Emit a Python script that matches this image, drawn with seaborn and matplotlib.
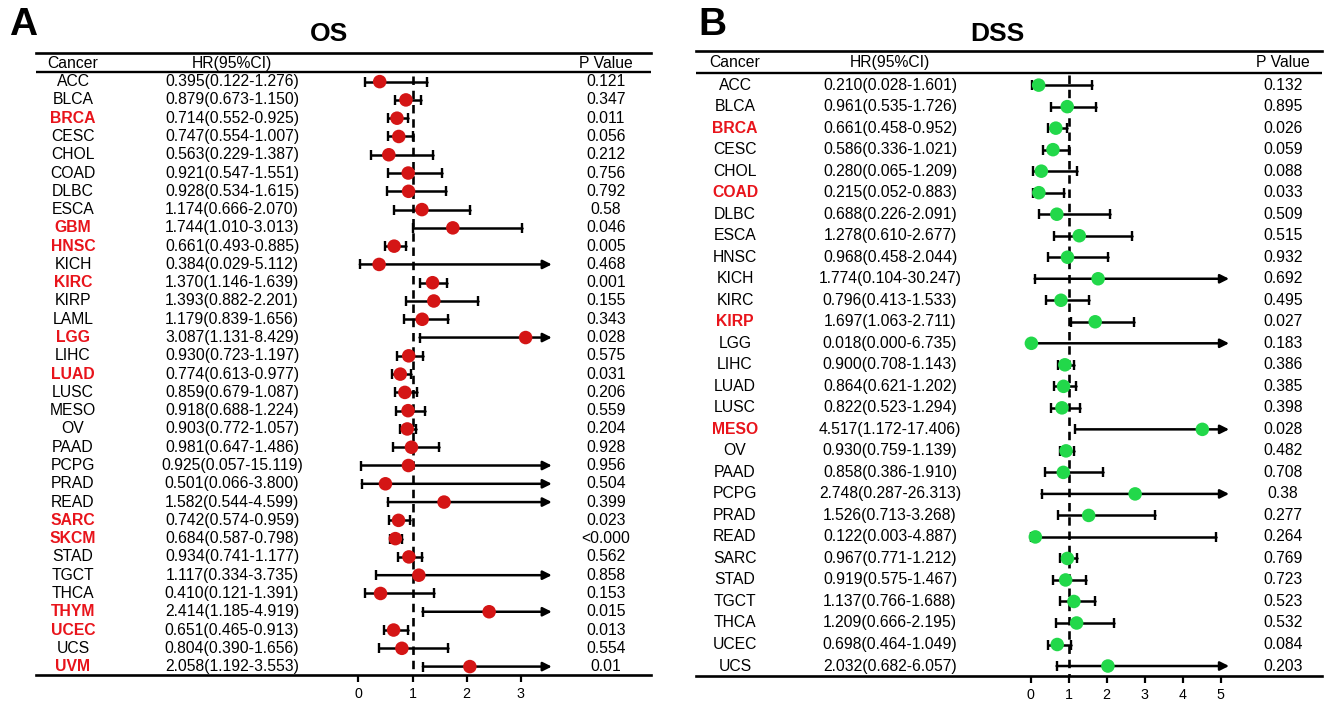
import numpy as np
import pandas as pd
import matplotlib
matplotlib.use("Agg")
import matplotlib.pyplot as plt
import seaborn as sns

# ---------------- data ----------------
os_cancer = ["ACC", "BLCA", "BRCA", "CESC", "CHOL", "COAD", "DLBC", "ESCA", "GBM", "HNSC",
             "KICH", "KIRC", "KIRP", "LAML", "LGG", "LIHC", "LUAD", "LUSC", "MESO", "OV",
             "PAAD", "PCPG", "PRAD", "READ", "SARC", "SKCM", "STAD", "TGCT", "THCA", "THYM",
             "UCEC", "UCS", "UVM"]
os_hr = [0.395, 0.879, 0.714, 0.747, 0.563, 0.921, 0.928, 1.174, 1.744, 0.661,
         0.384, 1.370, 1.393, 1.179, 3.087, 0.930, 0.774, 0.859, 0.918, 0.903,
         0.981, 0.925, 0.501, 1.582, 0.742, 0.684, 0.934, 1.117, 0.410, 2.414,
         0.651, 0.804, 2.058]
os_low = [0.122, 0.673, 0.552, 0.554, 0.229, 0.547, 0.534, 0.666, 1.010, 0.493,
          0.029, 1.146, 0.882, 0.839, 1.131, 0.723, 0.613, 0.679, 0.688, 0.772,
          0.647, 0.057, 0.066, 0.544, 0.574, 0.587, 0.741, 0.334, 0.121, 1.185,
          0.465, 0.390, 1.192]
os_high = [1.276, 1.150, 0.925, 1.007, 1.387, 1.551, 1.615, 2.070, 3.013, 0.885,
           5.112, 1.639, 2.201, 1.656, 8.429, 1.197, 0.977, 1.087, 1.224, 1.057,
           1.486, 15.119, 3.800, 4.599, 0.959, 0.798, 1.177, 3.735, 1.391, 4.919,
           0.913, 1.656, 3.553]
os_p = ["0.121", "0.347", "0.011", "0.056", "0.212", "0.756", "0.792", "0.58", "0.046", "0.005",
        "0.468", "0.001", "0.155", "0.343", "0.028", "0.575", "0.031", "0.206", "0.559", "0.204",
        "0.928", "0.956", "0.504", "0.399", "0.023", "<0.000", "0.562", "0.858", "0.153", "0.015",
        "0.013", "0.554", "0.01"]
os_ticks = [0, 1, 2, 3]

dss_cancer = ["ACC", "BLCA", "BRCA", "CESC", "CHOL", "COAD", "DLBC", "ESCA", "HNSC", "KICH",
              "KIRC", "KIRP", "LGG", "LIHC", "LUAD", "LUSC", "MESO", "OV", "PAAD", "PCPG",
              "PRAD", "READ", "SARC", "STAD", "TGCT", "THCA", "UCEC", "UCS"]
dss_hr = [0.210, 0.961, 0.661, 0.586, 0.280, 0.215, 0.688, 1.278, 0.968, 1.774,
          0.796, 1.697, 0.018, 0.900, 0.864, 0.822, 4.517, 0.930, 0.858, 2.748,
          1.526, 0.122, 0.967, 0.919, 1.137, 1.209, 0.698, 2.032]
dss_low = [0.028, 0.535, 0.458, 0.336, 0.065, 0.052, 0.226, 0.610, 0.458, 0.104,
           0.413, 1.063, 0.000, 0.708, 0.621, 0.523, 1.172, 0.759, 0.386, 0.287,
           0.713, 0.003, 0.771, 0.575, 0.766, 0.666, 0.464, 0.682]
dss_high = [1.601, 1.726, 0.952, 1.021, 1.209, 0.883, 2.091, 2.677, 2.044, 30.247,
            1.533, 2.711, 6.735, 1.143, 1.202, 1.294, 17.406, 1.139, 1.910, 26.313,
            3.268, 4.887, 1.212, 1.467, 1.688, 2.195, 1.049, 6.057]
dss_p = ["0.132", "0.895", "0.026", "0.059", "0.088", "0.033", "0.509", "0.515", "0.932", "0.692",
         "0.495", "0.027", "0.183", "0.386", "0.385", "0.398", "0.028", "0.482", "0.708", "0.38",
         "0.277", "0.264", "0.769", "0.723", "0.523", "0.532", "0.084", "0.203"]
dss_ticks = [0, 1, 2, 3, 4, 5]

# ---------------- style ----------------
sns.set_theme(style="white")
plt.rcParams["font.family"] = ["Liberation Sans", "DejaVu Sans"]
plt.rcParams["text.color"] = "black"
plt.rcParams["xtick.color"] = "black"
plt.rcParams["xtick.labelcolor"] = "black"

FIG_W, FIG_H = 1326, 706
fig = plt.figure(figsize=(FIG_W / 100, FIG_H / 100), dpi=100)
fig.patch.set_facecolor("white")

TXT = 11.3
RED_TXT = "#e8141b"
LW = 1.8


def forest(px_left, px_right, px_top, px_bottom, xlim, ylim, cancers, hr, lo, hi, pvals,
           ticks, clip, tip, dot_color, col_x, header_y, header_line_y, dot_size, dash_top):
    ax = fig.add_axes([px_left / FIG_W, 1 - px_bottom / FIG_H,
                       (px_right - px_left) / FIG_W, (px_bottom - px_top) / FIG_H])
    n = len(cancers)
    df = pd.DataFrame({"cancer": cancers, "hr": hr, "lo": lo, "hi": hi, "p": pvals,
                       "row": np.arange(n)})
    ax.set_xlim(*xlim)
    ax.set_ylim(ylim[1], ylim[0])  # inverted: row 0 on top

    # reference dashed line at HR = 1
    ax.vlines(1, dash_top, ylim[1], colors="black", linestyles=(0, (3.2, 2.2)),
              lw=1.9, zorder=1)

    # confidence intervals
    for _, r in df.iterrows():
        if r["hi"] > clip:
            ax.annotate("", xy=(tip, r["row"]), xytext=(r["lo"], r["row"]),
                        arrowprops=dict(arrowstyle="-|>", lw=LW, color="black",
                                        mutation_scale=13, shrinkA=0, shrinkB=0),
                        zorder=2)
            ax.plot([r["lo"]], [r["row"]], marker="|", ms=6.5, mew=1.7, color="black", zorder=2)
        else:
            ax.plot([r["lo"], r["hi"]], [r["row"], r["row"]], color="black", lw=LW, zorder=2)
            ax.plot([r["lo"], r["hi"]], [r["row"], r["row"]], ls="none", marker="|",
                    ms=6.5, mew=1.7, color="black", zorder=2)

    sns.scatterplot(data=df, x="hr", y="row", ax=ax, color=dot_color, s=dot_size,
                    edgecolor="none", zorder=3, legend=False)

    # table text
    ytr = ax.get_yaxis_transform()
    sig = [p.startswith("<") or float(p) < 0.05 for p in pvals]
    for i in range(n):
        ax.text(col_x[0], i, cancers[i], transform=ytr, ha="center", va="center",
                fontsize=TXT, color=RED_TXT if sig[i] else "black",
                fontweight="bold" if sig[i] else "normal")
        ax.text(col_x[1], i, f"{hr[i]:.3f}({lo[i]:.3f}-{hi[i]:.3f})", transform=ytr,
                ha="center", va="center", fontsize=TXT)
        ax.text(col_x[2], i, pvals[i], transform=ytr, ha="center", va="center", fontsize=TXT)
    ax.text(col_x[0], header_y, "Cancer", transform=ytr, ha="center", va="center", fontsize=TXT)
    ax.text(col_x[1], header_y, "HR(95%CI)", transform=ytr, ha="center", va="center", fontsize=TXT)
    ax.text(col_x[2], header_y, "P Value", transform=ytr, ha="center", va="center", fontsize=TXT)
    ax.axhline(header_line_y, color="black", lw=1.7)

    # frame: only top and bottom lines
    for s in ["left", "right"]:
        ax.spines[s].set_visible(False)
    for s in ["top", "bottom"]:
        ax.spines[s].set_color("black")
        ax.spines[s].set_linewidth(1.9)
    ax.set_yticks([])
    ax.set_xticks(ticks)
    ax.set_xticklabels([str(t) for t in ticks], fontsize=10.3)
    ax.tick_params(axis="x", bottom=True, direction="out", length=5, width=1.6,
                   color="black", pad=4)
    ax.set_xlabel("")
    ax.set_ylabel("")
    ax.set_facecolor("white")
    return ax


# Panel A (OS)
unit_a = 54.2
x0_a = 358.3
forest(36, 651, 53.3, 675,
       ((36 - x0_a) / unit_a, (651 - x0_a) / unit_a),
       (-1.55, 32.46),
       os_cancer, os_hr, os_low, os_high, os_p, os_ticks,
       clip=3.5, tip=3.57, dot_color="#d41515",
       col_x=((73 - 36) / 615, (232 - 36) / 615, (606 - 36) / 615),
       header_y=-1.0, header_line_y=-0.55, dot_size=95, dash_top=-0.3)

# Panel B (DSS)
unit_b = 38.0
x0_b = 1030.7
forest(696, 1322, 50.7, 675.7,
       ((696 - x0_b) / unit_b, (1322 - x0_b) / unit_b),
       (-1.6, 27.45),
       dss_cancer, dss_hr, dss_low, dss_high, dss_p, dss_ticks,
       clip=5.1, tip=5.22, dot_color="#22d84a",
       col_x=((735 - 696) / 626, (890 - 696) / 626, (1283 - 696) / 626),
       header_y=-1.05, header_line_y=-0.55, dot_size=95, dash_top=-0.45)

# titles and panel letters
fig.text(329 / FIG_W, 1 - 34 / FIG_H, "OS", ha="center", va="center", fontsize=19, fontweight="bold")
fig.text(997 / FIG_W, 1 - 34 / FIG_H, "DSS", ha="center", va="center", fontsize=19, fontweight="bold")
fig.text(23 / FIG_W, 1 - 25 / FIG_H, "A", ha="center", va="center", fontsize=28, fontweight="bold")
fig.text(712 / FIG_W, 1 - 25 / FIG_H, "B", ha="center", va="center", fontsize=28, fontweight="bold")

fig.savefig("out.png", dpi=100, facecolor="white")
